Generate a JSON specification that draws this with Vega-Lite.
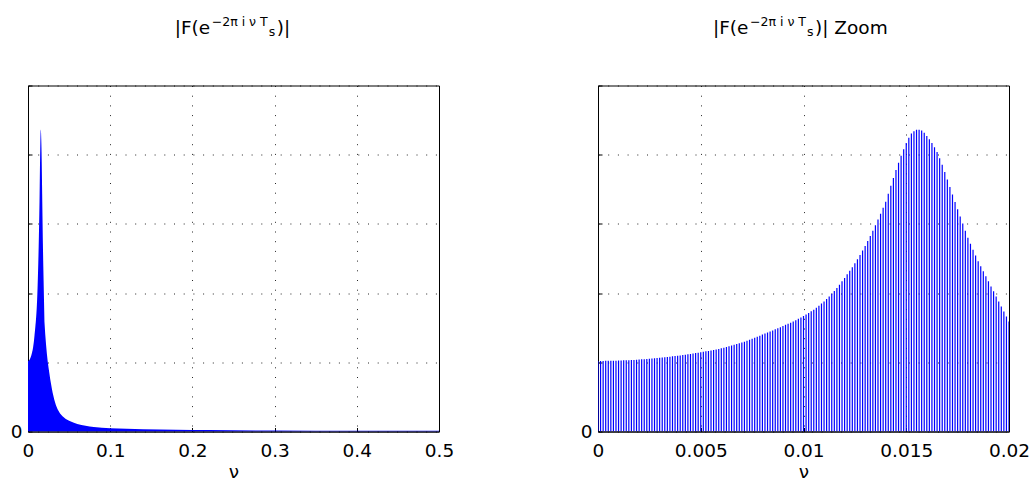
{
  "$schema": "https://vega.github.io/schema/vega-lite/v6.json",
  "autosize": {"type": "pad"},
  "padding": {"left": 9, "top": 14.5, "right": 5, "bottom": 3},
  "background": "white",
  "bounds": "flush",
  "spacing": 159,
  "config": {
    "font": "DejaVu Sans",
    "view": {"stroke": "black", "strokeWidth": 1},
    "axis": {
      "domainColor": "black", "domainWidth": 1,
      "tickColor": "black", "tickSize": -4, "tickWidth": 1,
      "grid": true, "gridColor": "black", "gridDash": [1, 8.7], "gridWidth": 1, "gridOpacity": 0.85,
      "labelFont": "DejaVu Sans", "labelFontSize": 18.5, "labelColor": "black",
      "labelFlush": false, "labelOverlap": false,
      "titleFont": "DejaVu Sans", "titleFontSize": 18.5, "titleFontWeight": "normal", "titleColor": "black"
    }
  },
  "datasets": {
    "spec": [
      {"nu":0,"mag":1.020},{"nu":0.000125,"mag":1.020},{"nu":0.00025,"mag":1.020},{"nu":0.000375,"mag":1.021},
      {"nu":0.0005,"mag":1.021},{"nu":0.000625,"mag":1.022},{"nu":0.00075,"mag":1.023},{"nu":0.000875,"mag":1.024},
      {"nu":0.001,"mag":1.025},{"nu":0.001125,"mag":1.026},{"nu":0.00125,"mag":1.028},{"nu":0.001375,"mag":1.029},
      {"nu":0.0015,"mag":1.031},{"nu":0.001625,"mag":1.033},{"nu":0.00175,"mag":1.035},{"nu":0.001875,"mag":1.038},
      {"nu":0.002,"mag":1.040},{"nu":0.002125,"mag":1.043},{"nu":0.00225,"mag":1.045},{"nu":0.002375,"mag":1.048},
      {"nu":0.0025,"mag":1.051},{"nu":0.002625,"mag":1.054},{"nu":0.00275,"mag":1.058},{"nu":0.002875,"mag":1.061},
      {"nu":0.003,"mag":1.065},{"nu":0.003125,"mag":1.069},{"nu":0.00325,"mag":1.073},{"nu":0.003375,"mag":1.077},
      {"nu":0.0035,"mag":1.081},{"nu":0.003625,"mag":1.086},{"nu":0.00375,"mag":1.090},{"nu":0.003875,"mag":1.095},
      {"nu":0.004,"mag":1.100},{"nu":0.004125,"mag":1.105},{"nu":0.00425,"mag":1.110},{"nu":0.004375,"mag":1.116},
      {"nu":0.0045,"mag":1.121},{"nu":0.004625,"mag":1.127},{"nu":0.00475,"mag":1.133},{"nu":0.004875,"mag":1.139},
      {"nu":0.005,"mag":1.145},{"nu":0.005125,"mag":1.151},{"nu":0.00525,"mag":1.158},{"nu":0.005375,"mag":1.165},
      {"nu":0.0055,"mag":1.172},{"nu":0.005625,"mag":1.179},{"nu":0.00575,"mag":1.186},{"nu":0.005875,"mag":1.194},
      {"nu":0.006,"mag":1.202},{"nu":0.006125,"mag":1.212},{"nu":0.00625,"mag":1.221},{"nu":0.006375,"mag":1.231},
      {"nu":0.0065,"mag":1.241},{"nu":0.006625,"mag":1.252},{"nu":0.00675,"mag":1.263},{"nu":0.006875,"mag":1.274},
      {"nu":0.007,"mag":1.285},{"nu":0.007125,"mag":1.298},{"nu":0.00725,"mag":1.312},{"nu":0.007375,"mag":1.326},
      {"nu":0.0075,"mag":1.340},{"nu":0.007625,"mag":1.355},{"nu":0.00775,"mag":1.370},{"nu":0.007875,"mag":1.385},
      {"nu":0.008,"mag":1.400},{"nu":0.008125,"mag":1.415},{"nu":0.00825,"mag":1.430},{"nu":0.008375,"mag":1.445},
      {"nu":0.0085,"mag":1.460},{"nu":0.008625,"mag":1.476},{"nu":0.00875,"mag":1.492},{"nu":0.008875,"mag":1.508},
      {"nu":0.009,"mag":1.525},{"nu":0.009125,"mag":1.541},{"nu":0.00925,"mag":1.557},{"nu":0.009375,"mag":1.573},
      {"nu":0.0095,"mag":1.590},{"nu":0.009625,"mag":1.609},{"nu":0.00975,"mag":1.629},{"nu":0.009875,"mag":1.649},
      {"nu":0.01,"mag":1.670},{"nu":0.010125,"mag":1.691},{"nu":0.01025,"mag":1.713},{"nu":0.010375,"mag":1.736},
      {"nu":0.0105,"mag":1.760},{"nu":0.010625,"mag":1.788},{"nu":0.01075,"mag":1.817},{"nu":0.010875,"mag":1.848},
      {"nu":0.011,"mag":1.880},{"nu":0.011125,"mag":1.915},{"nu":0.01125,"mag":1.952},{"nu":0.011375,"mag":1.990},
      {"nu":0.0115,"mag":2.030},{"nu":0.011625,"mag":2.075},{"nu":0.01175,"mag":2.122},{"nu":0.011875,"mag":2.170},
      {"nu":0.012,"mag":2.220},{"nu":0.012125,"mag":2.271},{"nu":0.01225,"mag":2.322},{"nu":0.012375,"mag":2.375},
      {"nu":0.0125,"mag":2.430},{"nu":0.012625,"mag":2.490},{"nu":0.01275,"mag":2.550},{"nu":0.012875,"mag":2.614},
      {"nu":0.013,"mag":2.680},{"nu":0.013125,"mag":2.752},{"nu":0.01325,"mag":2.826},{"nu":0.013375,"mag":2.902},
      {"nu":0.0135,"mag":2.980},{"nu":0.013625,"mag":3.062},{"nu":0.01375,"mag":3.146},{"nu":0.013875,"mag":3.232},
      {"nu":0.014,"mag":3.320},{"nu":0.014125,"mag":3.435},{"nu":0.01425,"mag":3.550},{"nu":0.014375,"mag":3.665},
      {"nu":0.0145,"mag":3.780},{"nu":0.014625,"mag":3.885},{"nu":0.01475,"mag":3.985},{"nu":0.014875,"mag":4.080},
      {"nu":0.015,"mag":4.170},{"nu":0.015125,"mag":4.245},{"nu":0.01525,"mag":4.305},{"nu":0.015375,"mag":4.340},
      {"nu":0.0155,"mag":4.360},{"nu":0.015625,"mag":4.362},{"nu":0.01575,"mag":4.350},{"nu":0.015875,"mag":4.318},
      {"nu":0.016,"mag":4.270},{"nu":0.016125,"mag":4.222},{"nu":0.01625,"mag":4.170},{"nu":0.016375,"mag":4.108},
      {"nu":0.0165,"mag":4.040},{"nu":0.016625,"mag":3.950},{"nu":0.01675,"mag":3.855},{"nu":0.016875,"mag":3.750},
      {"nu":0.017,"mag":3.640},{"nu":0.017125,"mag":3.533},{"nu":0.01725,"mag":3.425},{"nu":0.017375,"mag":3.318},
      {"nu":0.0175,"mag":3.210},{"nu":0.017625,"mag":3.107},{"nu":0.01775,"mag":3.005},{"nu":0.017875,"mag":2.902},
      {"nu":0.018,"mag":2.800},{"nu":0.018125,"mag":2.713},{"nu":0.01825,"mag":2.628},{"nu":0.018375,"mag":2.544},
      {"nu":0.0185,"mag":2.460},{"nu":0.018625,"mag":2.387},{"nu":0.01875,"mag":2.315},{"nu":0.018875,"mag":2.242},
      {"nu":0.019,"mag":2.170},{"nu":0.019125,"mag":2.097},{"nu":0.01925,"mag":2.025},{"nu":0.019375,"mag":1.952},
      {"nu":0.0195,"mag":1.880},{"nu":0.019625,"mag":1.807},{"nu":0.01975,"mag":1.735},{"nu":0.019875,"mag":1.662},
      {"nu":0.02,"mag":1.590},
      {"nu":0.021,"mag":1.40},{"nu":0.022,"mag":1.25},{"nu":0.023,"mag":1.12},{"nu":0.024,"mag":1.01},
      {"nu":0.025,"mag":0.92},{"nu":0.026,"mag":0.84},{"nu":0.027,"mag":0.76},{"nu":0.028,"mag":0.69},
      {"nu":0.029,"mag":0.62},{"nu":0.03,"mag":0.56},{"nu":0.032,"mag":0.46},{"nu":0.034,"mag":0.38},
      {"nu":0.036,"mag":0.32},{"nu":0.039,"mag":0.26},{"nu":0.042,"mag":0.22},{"nu":0.046,"mag":0.18},
      {"nu":0.05,"mag":0.155},{"nu":0.055,"mag":0.13},{"nu":0.06,"mag":0.11},{"nu":0.065,"mag":0.095},
      {"nu":0.07,"mag":0.083},{"nu":0.075,"mag":0.073},{"nu":0.08,"mag":0.065},{"nu":0.09,"mag":0.055},
      {"nu":0.1,"mag":0.048},{"nu":0.12,"mag":0.04},{"nu":0.14,"mag":0.034},{"nu":0.16,"mag":0.03},
      {"nu":0.18,"mag":0.026},{"nu":0.2,"mag":0.023},{"nu":0.22,"mag":0.02},{"nu":0.25,"mag":0.017},
      {"nu":0.3,"mag":0.014},{"nu":0.35,"mag":0.012},{"nu":0.4,"mag":0.011},{"nu":0.45,"mag":0.01},
      {"nu":0.5,"mag":0.01}
    ]
  },
  "hconcat": [
    {
      "width": 411,
      "height": 346,
      "layer": [
        {
          "data": {"name": "spec"},
          "mark": {"type": "area", "color": "#0000ff", "clip": true, "interpolate": "linear"},
          "encoding": {
            "x": {"field": "nu", "type": "quantitative",
                  "scale": {"domain": [0, 0.5], "nice": false, "zero": false},
                  "axis": {"values": [0, 0.1, 0.2, 0.3, 0.4, 0.5], "format": "~g", "title": "ν", "labelPadding": 14, "titlePadding": 2}},
            "y": {"field": "mag", "type": "quantitative",
                  "scale": {"domain": [0, 5], "nice": false},
                  "axis": {"values": [0, 1, 2, 3, 4, 5], "labelExpr": "datum.value == 0 ? '0' : ''", "title": null, "labelPadding": 10}}
          }
        },
        {
          "data": {"values": [{}]},
          "mark": {"type": "text", "text": "|F(e", "align": "left", "baseline": "alphabetic", "fontSize": 18.5, "clip": false, "color": "black"},
          "encoding": {"x": {"datum": 0.17847}, "y": {"datum": 5.737}}
        },
        {
          "data": {"values": [{}]},
          "mark": {"type": "text", "text": "−2π i ν T", "align": "left", "baseline": "alphabetic", "fontSize": 12.5, "clip": false, "color": "black"},
          "encoding": {"x": {"datum": 0.22348}, "y": {"datum": 5.86}}
        },
        {
          "data": {"values": [{}]},
          "mark": {"type": "text", "text": "s", "align": "left", "baseline": "alphabetic", "fontSize": 12.5, "clip": false, "color": "black"},
          "encoding": {"x": {"datum": 0.29282}, "y": {"datum": 5.71}}
        },
        {
          "data": {"values": [{}]},
          "mark": {"type": "text", "text": ")|", "align": "left", "baseline": "alphabetic", "fontSize": 18.5, "clip": false, "color": "black"},
          "encoding": {"x": {"datum": 0.30255}, "y": {"datum": 5.737}}
        }
      ]
    },
    {
      "width": 411,
      "height": 346,
      "layer": [
        {
          "data": {"name": "spec"},
          "transform": [{"filter": "datum.nu <= 0.02"}],
          "mark": {"type": "rule", "color": "#0000ff", "strokeWidth": 1.2, "clip": true},
          "encoding": {
            "x": {"field": "nu", "type": "quantitative",
                  "scale": {"domain": [0, 0.02], "nice": false, "zero": false},
                  "axis": {"values": [0, 0.005, 0.01, 0.015, 0.02], "format": "~g", "title": "ν", "labelPadding": 14, "titlePadding": 2}},
            "y": {"field": "mag", "type": "quantitative",
                  "scale": {"domain": [0, 5], "nice": false},
                  "axis": {"values": [0, 1, 2, 3, 4, 5], "labelExpr": "datum.value == 0 ? '0' : ''", "title": null, "labelPadding": 10}},
            "y2": {"datum": 0}
          }
        },
        {
          "data": {"values": [{}]},
          "mark": {"type": "text", "text": "|F(e", "align": "left", "baseline": "alphabetic", "fontSize": 18.5, "clip": false, "color": "black"},
          "encoding": {"x": {"datum": 0.005596}, "y": {"datum": 5.737}}
        },
        {
          "data": {"values": [{}]},
          "mark": {"type": "text", "text": "−2π i ν T", "align": "left", "baseline": "alphabetic", "fontSize": 12.5, "clip": false, "color": "black"},
          "encoding": {"x": {"datum": 0.007397}, "y": {"datum": 5.86}}
        },
        {
          "data": {"values": [{}]},
          "mark": {"type": "text", "text": "s", "align": "left", "baseline": "alphabetic", "fontSize": 12.5, "clip": false, "color": "black"},
          "encoding": {"x": {"datum": 0.01017}, "y": {"datum": 5.71}}
        },
        {
          "data": {"values": [{}]},
          "mark": {"type": "text", "text": ")| Zoom", "align": "left", "baseline": "alphabetic", "fontSize": 18.5, "clip": false, "color": "black"},
          "encoding": {"x": {"datum": 0.01056}, "y": {"datum": 5.737}}
        }
      ]
    }
  ]
}
